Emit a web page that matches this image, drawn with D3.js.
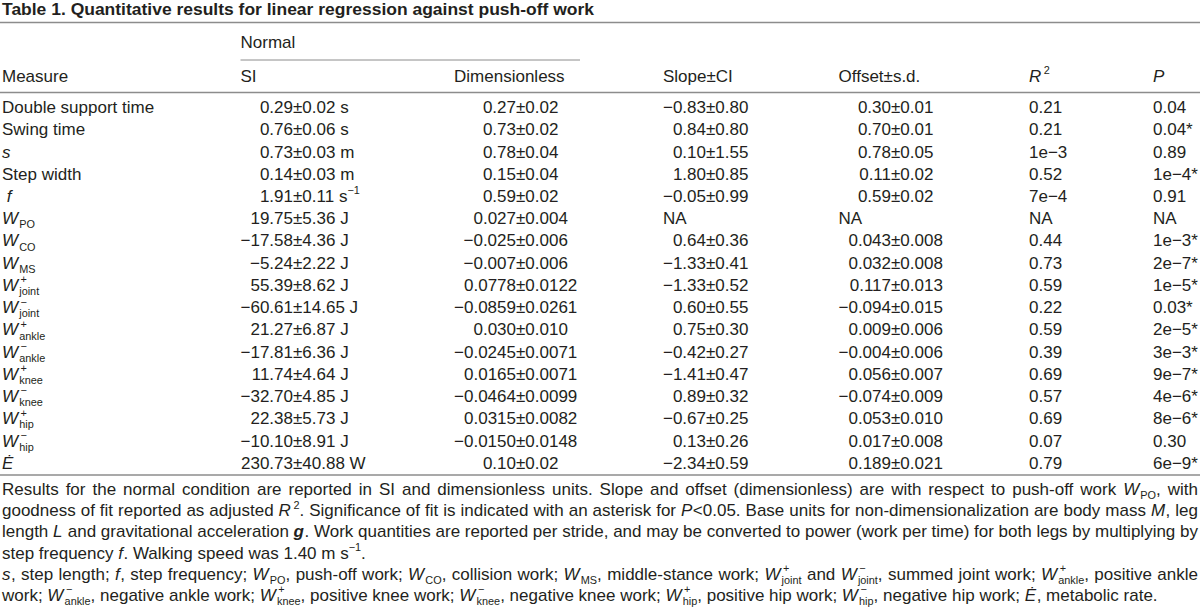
<!DOCTYPE html>
<html lang="en">
<head>
<meta charset="UTF-8">
<title>Table 1</title>
<script src="https://d3js.org/d3.v7.min.js"></script>
<style>
  body { margin: 0; background: #fff; overflow: hidden; }
  text { font-family: "Liberation Sans", Arial, Helvetica, sans-serif; fill: #231f20; }
</style>
</head>
<body>
<script>
// table content ($..$ italic, $$..$$ bold italic, _{} subscript, ^{} superscript)
const measures = ["Double support time", "Swing time", "$s$", "Step width", " $f$", "$W$_{PO}", "$W$_{CO}", "$W$_{MS}",
  "$W$^{+}_{joint}", "$W$^{−}_{joint}", "$W$^{+}_{ankle}", "$W$^{−}_{ankle}", "$W$^{+}_{knee}", "$W$^{−}_{knee}",
  "$W$^{+}_{hip}", "$W$^{−}_{hip}", "$Ė$"];
const siValues = ["0.29±0.02 s", "0.76±0.06 s", "0.73±0.03 m", "0.14±0.03 m", "1.91±0.11 s^{−1}", "19.75±5.36 J",
  "−17.58±4.36 J", "−5.24±2.22 J", "55.39±8.62 J", "−60.61±14.65 J", "21.27±6.87 J", "−17.81±6.36 J",
  "11.74±4.64 J", "−32.70±4.85 J", "22.38±5.73 J", "−10.10±8.91 J", "230.73±40.88 W"];
const dimValues = ["0.27±0.02", "0.73±0.02", "0.78±0.04", "0.15±0.04", "0.59±0.02", "0.027±0.004",
  "−0.025±0.006", "−0.007±0.006", "0.0778±0.0122", "−0.0859±0.0261", "0.030±0.010", "−0.0245±0.0071",
  "0.0165±0.0071", "−0.0464±0.0099", "0.0315±0.0082", "−0.0150±0.0148", "0.10±0.02"];
const slopeValues = ["−0.83±0.80", "0.84±0.80", "0.10±1.55", "1.80±0.85", "−0.05±0.99", "NA",
  "0.64±0.36", "−1.33±0.41", "−1.33±0.52", "0.60±0.55", "0.75±0.30", "−0.42±0.27",
  "−1.41±0.47", "0.89±0.32", "−0.67±0.25", "0.13±0.26", "−2.34±0.59"];
const offsetValues = ["0.30±0.01", "0.70±0.01", "0.78±0.05", "0.11±0.02", "0.59±0.02", "NA",
  "0.043±0.008", "0.032±0.008", "0.117±0.013", "−0.094±0.015", "0.009±0.006", "−0.004±0.006",
  "0.056±0.007", "−0.074±0.009", "0.053±0.010", "0.017±0.008", "0.189±0.021"];
const r2Values = ["0.21", "0.21", "1e−3", "0.52", "7e−4", "NA", "0.44", "0.73", "0.59", "0.22", "0.59",
  "0.39", "0.69", "0.57", "0.69", "0.07", "0.79"];
const pValues = ["0.04", "0.04*", "0.89", "1e−4*", "0.91", "NA", "1e−3*", "2e−7*", "1e−5*", "0.03*", "2e−5*",
  "3e−3*", "9e−7*", "4e−6*", "8e−6*", "0.30", "6e−9*"];

const title = "Table 1. Quantitative results for linear regression against push-off work";
const groupHeader = "Normal";
const headers = ["Measure", "SI", "Dimensionless", "Slope±CI", "Offset±s.d.", "$R$^{2}", "$P$"];

// footnote, one entry per printed line; true = justified
const notes = [
  ["Results for the normal condition are reported in SI and dimensionless units. Slope and offset (dimensionless) are with respect to push-off work $W$_{PO}, with", true],
  ["goodness of fit reported as adjusted $R$^{2}. Significance of fit is indicated with an asterisk for $P$<0.05. Base units for non-dimensionalization are body mass $M$, leg", true],
  ["length $L$ and gravitational acceleration $$g$$. Work quantities are reported per stride, and may be converted to power (work per time) for both legs by multiplying by", true],
  ["step frequency $f$. Walking speed was 1.40 m s^{−1}.", false],
  ["$s$, step length; $f$, step frequency; $W$_{PO}, push-off work; $W$_{CO}, collision work; $W$_{MS}, middle-stance work; $W$^{+}_{joint} and $W$^{−}_{joint}, summed joint work; $W$^{+}_{ankle}, positive ankle", true],
  ["work; $W$^{−}_{ankle}, negative ankle work; $W$^{+}_{knee}, positive knee work; $W$^{−}_{knee}, negative knee work; $W$^{+}_{hip}, positive hip work; $W$^{−}_{hip}, negative hip work; $Ė$, metabolic rate.", false]
];

const width = 1200, height = 616;
const fs = 17;
const left = 2, right = 1198;

const svg = d3.select("body").append("svg").attr("width", width).attr("height", height);

// column layout: "text" = left aligned, "pm" = aligned on the ± sign at x
const columns = [
  { data: measures, x: left, kind: "text" },
  { data: siValues, x: 293, kind: "pm" },
  { data: dimValues, x: 516, kind: "pm" },
  { data: slopeValues, x: 706, kind: "pm" },
  { data: offsetValues, x: 891, kind: "pm" },
  { data: r2Values, x: 1029, kind: "text" },
  { data: pValues, x: 1153, kind: "text" }
];

const y = d3.scaleBand().domain(d3.range(measures.length)).range([96, 474]);

function parse(str) {
  const out = [];
  const re = /\$\$([^$]+)\$\$|\$([^$]+)\$|_\{([^}]*)\}|\^\{([^}]*)\}|([^$_^]+)/g;
  let m;
  while ((m = re.exec(str))) {
    if (m[1]) out.push({ t: m[1], style: "bi" });
    else if (m[2]) out.push({ t: m[2], style: "i" });
    else if (m[3] !== undefined) out.push({ t: m[3], style: "sub" });
    else if (m[4] !== undefined) out.push({ t: m[4], style: "sup" });
    else out.push({ t: m[5], style: "n" });
  }
  return out;
}

// draw markup from x on baseline yb, returns end x
function drawRich(g, str, x, yb, size, wordSpacing) {
  const parts = parse(str);
  let cx = x;
  for (let k = 0; k < parts.length; k++) {
    const p = parts[k];
    if (p.style === "sup" || p.style === "sub") {
      const prev = parts[k - 1];
      const italicBefore = prev && prev.style === "i";
      // superscripts after an italic letter need a bit more room
      const sx = cx + (italicBefore ? (p.style === "sup" ? size * 0.12 : size * 0.04) : 0);
      let w = script(g, p, sx, yb, size) + sx - cx;
      const next = parts[k + 1];
      if (p.style === "sup" && next && next.style === "sub") {
        const bx = cx + size * 0.04;
        w = Math.max(w, script(g, next, bx, yb, size) + bx - cx);
        k++;
      }
      cx += w;
    } else {
      const t = g.append("text").attr("x", cx).attr("y", yb).attr("font-size", size)
        .style("white-space", "pre").text(p.t);
      if (p.style === "i") t.attr("font-style", "italic");
      if (p.style === "bi") t.attr("font-style", "italic").attr("font-weight", "bold");
      if (wordSpacing) t.attr("word-spacing", wordSpacing);
      cx += t.node().getComputedTextLength();
      if (p.style === "i" || p.style === "bi") cx += size * 0.03;
    }
  }
  return cx;
}
function script(g, p, x, yb, size) {
  const t = g.append("text").attr("x", x).attr("font-size", size * 0.64)
    .attr("y", p.style === "sup" ? yb - size * 0.45 : yb + size * 0.24)
    .text(p.t);
  return t.node().getComputedTextLength();
}
function textWidth(str, size) {
  const tmp = svg.append("g");
  const w = drawRich(tmp, str, 0, 0, size);
  tmp.remove();
  return w;
}

// title (condensed bold)
svg.append("text").attr("x", left).attr("y", 15)
  .attr("font-family", "'Liberation Sans Narrow', 'Arial Narrow', 'Liberation Sans', sans-serif")
  .attr("font-weight", "bold").attr("font-size", 17)
  .attr("textLength", 592).attr("lengthAdjust", "spacingAndGlyphs")
  .text(title);

// header positions: left edge of the widest entry in each ±-column
columns.forEach(col => {
  if (col.kind === "pm") {
    col.lead = d3.max(col.data.filter(d => d !== "NA"), d => textWidth(d.split("±")[0], fs));
    col.left = col.x - col.lead;
  } else col.left = col.x;
});

// rules
const rule = (x1, x2, yy, w) => svg.append("line").attr("x1", x1).attr("x2", x2)
  .attr("y1", yy).attr("y2", yy).attr("stroke", "#8c8c8c").attr("stroke-width", w);
rule(0, width, 22.5, 1.6);
rule(columns[1].left, 580, 60, 1);
rule(0, width, 92.5, 1.6);
rule(0, width, 475, 1.6);

// header
const head = svg.append("g");
drawRich(head, groupHeader, columns[1].left, 48, fs);
headers.forEach((h, i) => drawRich(head, h, columns[i].left, 81.5, fs));

// body
const body = svg.append("g");
columns.forEach(col => {
  col.data.forEach((v, i) => {
    const yb = y(i) + y.bandwidth() / 2 + fs * 0.35;
    if (col.kind === "text") {
      drawRich(body, v, col.x, yb, fs);
    } else if (v === "NA") {
      drawRich(body, v, col.left, yb, fs);
    } else {
      const [a, b] = v.split("±");
      drawRich(body, a, col.x - textWidth(a, fs), yb, fs);
      drawRich(body, "±" + b, col.x, yb, fs);
    }
  });
});

// footnote
const foot = svg.append("g");
notes.forEach(([line, justify], i) => {
  const yb = 495 + i * 21.2;
  const g = foot.append("g");
  const end = drawRich(g, line, left, yb, fs);
  if (justify) {
    const spaces = (line.match(/ /g) || []).length;
    const extra = (right - end) / spaces;
    g.selectAll("*").remove();
    drawRich(g, line, left, yb, fs, extra);
  }
});
</script>
</body>
</html>
